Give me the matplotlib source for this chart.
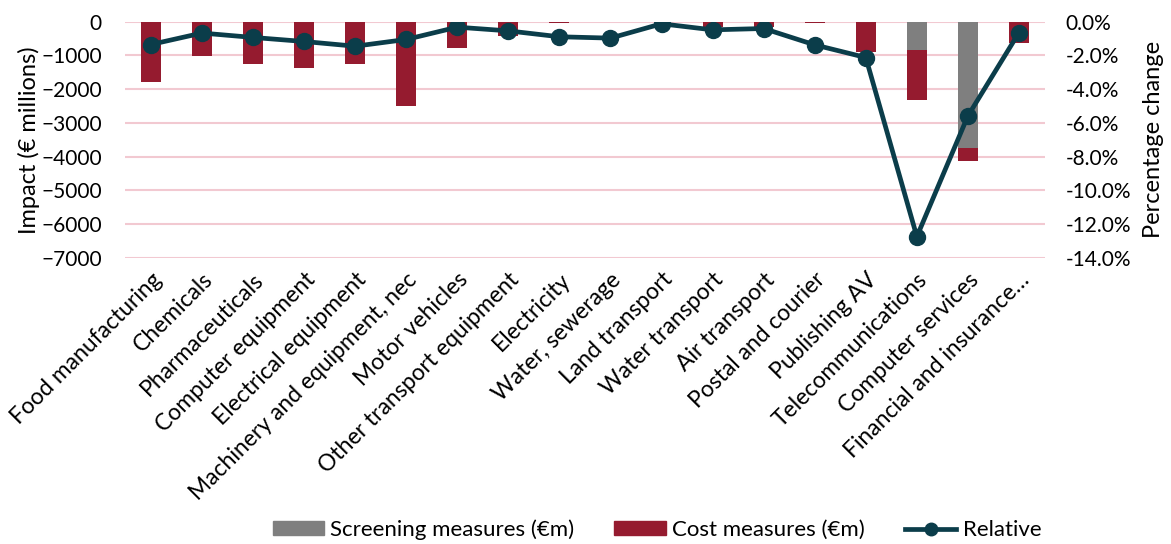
import matplotlib
matplotlib.use("Agg")
import matplotlib.pyplot as plt
import numpy as np
from matplotlib.ticker import FuncFormatter
from matplotlib.lines import Line2D
from matplotlib.patches import Patch

plt.rcParams['font.family'] = ['Lato', 'DejaVu Sans']

sectors = [
    "Food manufacturing", "Chemicals", "Pharmaceuticals", "Computer equipment",
    "Electrical equipment", "Machinery and equipment, nec", "Motor vehicles",
    "Other transport equipment", "Electricity", "Water, sewerage", "Land transport",
    "Water transport", "Air transport", "Postal and courier", "Publishing AV",
    "Telecommunications", "Computer services", "Financial and insurance\u2026",
]
screening = [0, 0, 0, 0, 0, 0, 0, 0, 0, 0, 0, 0, 0, 0, 0, -850, -3740, 0]
cost = [-1790, -1010, -1260, -1370, -1250, -2500, -780, -430, -40, 0, 0,
        -160, -150, -40, -910, -1480, -400, -640]
relative = [-1.35, -0.67, -0.93, -1.17, -1.45, -1.05, -0.32, -0.54, -0.89,
            -0.97, -0.12, -0.48, -0.40, -1.37, -2.12, -12.74, -5.58, -0.64]

GREY = "#7f7f7f"
RED = "#951b2f"
TEAL = "#0b3d4a"
GRID = "#f2c9d1"

fig = plt.figure(figsize=(11.71, 5.44), dpi=100)
ax = fig.add_axes([0.107, 0.526, 0.785, 0.434])
x = np.arange(len(sectors))

ax.bar(x, screening, width=0.39, color=GREY, zorder=2)
ax.bar(x, cost, width=0.39, bottom=screening, color=RED, zorder=2)

ax.set_xlim(-0.5, len(sectors) - 0.5)
ax.set_ylim(-7000, 0)
ax.set_yticks(np.arange(-7000, 1, 1000))
ax.yaxis.grid(True, color=GRID, linewidth=1.5, zorder=0)
ax.set_axisbelow(True)
for s in ax.spines.values():
    s.set_visible(False)
ax.tick_params(axis='both', length=0)
ax.tick_params(axis='y', labelsize=15, pad=17)
ax.set_xticks(x)
ax.set_xticklabels(sectors, rotation=45, ha='right', va='top',
                   rotation_mode='anchor', fontsize=16.5)
ax.tick_params(axis='x', pad=8)
ax.set_ylabel("Impact (\u20ac millions)", fontsize=17)
ax.yaxis.set_label_coords(-0.0925, 0.5)

ax2 = ax.twinx()
ax2.plot(x, relative, color=TEAL, linewidth=3.4, marker='o', markersize=11.5,
         zorder=3)
ax2.set_ylim(-14, 0)
ax2.set_yticks(np.arange(-14, 0.1, 2))
ax2.yaxis.set_major_formatter(FuncFormatter(lambda v, p: f"{v:.1f}%"))
for s in ax2.spines.values():
    s.set_visible(False)
ax2.tick_params(axis='y', length=0, labelsize=15, pad=15)
ax2.set_ylabel("Percentage change", fontsize=17)
ax2.yaxis.set_label_coords(1.1066, 0.5)

handles = [
    Patch(color=GREY, label="Screening measures (\u20acm)"),
    Patch(color=RED, label="Cost measures (\u20acm)"),
    Line2D([0], [0], color=TEAL, linewidth=3.4, marker='o', markersize=9,
           label="Relative"),
]
fig.legend(handles=handles, loc='center', bbox_to_anchor=(0.561, 0.026),
           ncol=3, frameon=False, fontsize=16, handlelength=2.3,
           handleheight=0.6, columnspacing=1.8, handletextpad=0.3)

fig.savefig("out.png", dpi=100)
